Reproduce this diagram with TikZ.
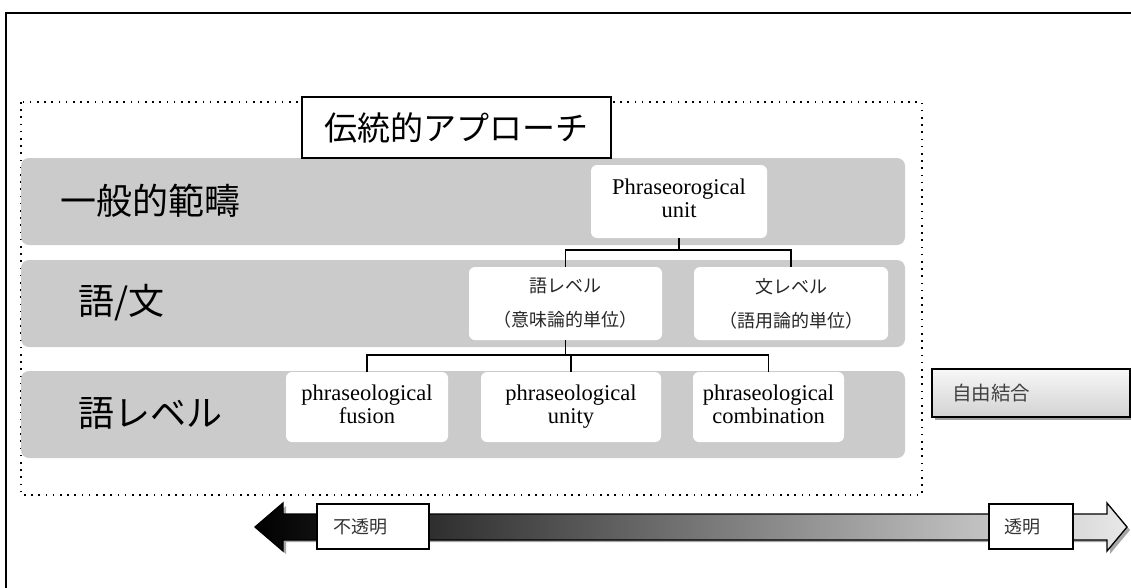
\documentclass[tikz,border=0pt]{standalone}
\usepackage{fontspec}
\setmainfont{Liberation Serif}
\newfontfamily\jp{Noto Sans CJK JP}
\usetikzlibrary{calc}
\definecolor{bandgray}{HTML}{CBCBCB}
\begin{document}
\begin{tikzpicture}[x=1pt,y=-1pt,
  band/.style={fill=bandgray, rounded corners=8pt, inner sep=0pt, minimum width=884pt, minimum height=87pt},
  wbox/.style={fill=white, rounded corners=6pt, inner sep=0pt, align=center, font=\fontsize{22.5}{23}\selectfont},
  jbox/.style={fill=white, rounded corners=6pt, inner sep=0pt, align=center, font=\jp\fontsize{18}{34}\selectfont, text=black!85},
  bandlabel/.style={anchor=west, inner sep=0pt, font=\jp\fontsize{36}{40}\selectfont},
  conn/.style={line width=1.8pt},
  dotframe/.style={line width=1.6pt, dash pattern=on 1.6pt off 5.6pt},
  arrlabel/.style={draw=black, fill=white, line width=1.5pt, inner sep=0pt, minimum height=45pt, font=\jp\fontsize{18}{20}\selectfont, text=black!80}
]
\useasboundingbox (0,0) rectangle (1131,587);
% outer frame
\draw[line width=2.8pt] (6,600) -- (6,13) -- (1140,13);
% dotted frame
\draw[dotframe] (21,102) rectangle (922,495);
% bands
\node[band] (b1) at (463,201.5) {};
\node[band] (b2) at (463,303.5) {};
\node[band] (b3) at (463,414.5) {};
\node[bandlabel] (l1) at (60,201) {一般的範疇};
\node[bandlabel] (l2) at (78,303) {語/文};
\node[bandlabel] (l3) at (78,413) {語レベル};
% boxes
\node[wbox, minimum width=176pt, minimum height=73pt] (pu) at (679,201.5) {\strut Phraseorogical\\unit\strut};
\node[jbox, minimum width=193pt, minimum height=73pt] (gl) at (565.5,303.5) {語レベル\\（意味論的単位）};
\node[jbox, minimum width=194pt, minimum height=73pt] (bl) at (791,303.5) {文レベル\\（語用論的単位）};
\node[wbox, minimum width=162pt, minimum height=70pt] (fu) at (367,407) {\strut phraseological\\fusion\strut};
\node[wbox, minimum width=180pt, minimum height=70pt] (un) at (571,407) {\strut phraseological\\unity\strut};
\node[wbox, minimum width=151pt, minimum height=70pt] (co) at (768.5,407) {\strut phraseological\\combination\strut};
% connectors
\coordinate (j1) at ($(pu.south)+(0,12)$);
\draw[conn] (pu.south) -- (j1);
\draw[conn] (gl.north) |- (j1) -| (bl.north);
\coordinate (j2) at (565.5,355);
\draw[conn] (gl.south) -- (j2);
\draw[conn] (fu.north) |- (j2) -| (co.north);
\draw[conn] (un.north) -- (un.north |- j2);
% title
\node[draw=black, fill=white, line width=1.5pt, minimum width=309pt, minimum height=61pt, inner sep=0pt, font=\jp\fontsize{33}{36}\selectfont] (title) at (456.5,127.5) {伝統的アプローチ};
% free combination
\fill[gray!75] (935,372) rectangle (1133,420);
\node[draw=black, line width=1.5pt, top color=gray!6, bottom color=gray!35, text width=158pt, inner xsep=20pt, inner ysep=0pt, minimum height=48pt, align=left, font=\jp\fontsize{19.5}{22}\selectfont, text=black!75] (fc) at (1031,393) {自由結合};
% arrow
\fill[gray!70] (258,530) -- (286,506) -- (286,518) -- (1110,518) -- (1110,506) -- (1130,530) -- (1110,554) -- (1110,542) -- (286,542) -- (286,554) -- cycle;
\shade[left color=black, right color=gray!18, draw=black, line width=1.3pt] (255,527) -- (283,503) -- (283,514) -- (1107,514) -- (1107,503) -- (1127,527) -- (1107,551) -- (1107,540) -- (283,540) -- (283,551) -- cycle;
\node[arrlabel, text width=80pt, inner xsep=16pt, align=left] (op) at (373,526.5) {不透明};
\node[arrlabel, text width=54pt, inner xsep=15pt, align=left] (tr) at (1031,526.5) {透明};
\end{tikzpicture}
\end{document}
